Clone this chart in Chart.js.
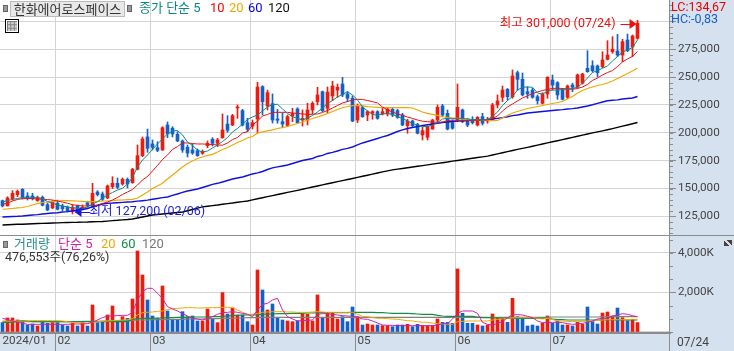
<!DOCTYPE html>
<html lang="ko">
<head>
<meta charset="utf-8">
<title>한화에어로스페이스</title>
<script src="https://cdn.jsdelivr.net/npm/chart.js@4"></script>
<style>
    html, body { margin: 0; padding: 0; background: #fff; overflow: hidden; }
    #wrap { position: relative; width: 734px; height: 351px; font-family: Roboto, "Noto Sans CJK KR", sans-serif; font-size: 13px; }
    canvas { position: absolute; left: 0; }
    #price-chart { top: 0; }
    #volume-chart { top: 235px; }
    .t { position: absolute; white-space: nowrap; line-height: 16px; }
    .sq { position: absolute; width: 3px; height: 5px; background: #999; border: 1px solid #666; }
    #name-box { position: absolute; left: 10px; top: 1px; width: 113px; height: 14px; background: #e8e8e8; border: 1px solid #bbb; color: #333; text-align: center; line-height: 14px; font-size: 13px; font-family: "Noto Sans CJK KR", sans-serif; }
    #grid-icon { position: absolute; left: 5px; top: 19px; width: 10px; height: 10px; padding: 1px; border: 1px solid #000; background: #fff; }
    #grid-icon div { width: 10px; height: 10px; background-color: #ccc; background-image: linear-gradient(#777 1px, transparent 1px), linear-gradient(90deg, #777 1px, transparent 1px); background-size: 3.4px 3.4px; }
    #zoom-icon { position: absolute; left: 724px; top: 240px; width: 8px; height: 6px; background: linear-gradient(45deg, #444 42%, #ddd 42%, #ddd 58%, #444 58%); }
</style>
</head>
<body>
<div id="wrap">
    <canvas id="price-chart" width="734" height="235"></canvas>
    <canvas id="volume-chart" width="734" height="116"></canvas>

    <div class="sq" style="left:3px;top:5px"></div>
    <div id="name-box">한화에어로스페이스</div>
    <div class="sq" style="left:127px;top:5px"></div>
    <div id="grid-icon"><div></div></div>
    <div class="t" style="left:139px;top:0;color:#0a8a84">종가 단순 5</div>
    <div class="t" style="left:210px;top:0;color:#f00">10</div>
    <div class="t" style="left:229px;top:0;color:#f0a800">20</div>
    <div class="t" style="left:248px;top:0;color:#00f">60</div>
    <div class="t" style="left:268px;top:0;color:#111">120</div>
    <div class="t" style="left:671px;top:-1px;color:#e00;font-size:12.5px">LC:134,67</div>
    <div class="t" style="left:671px;top:11px;color:#1560c8;font-size:12.5px">HC:-0,83</div>

    <div class="sq" style="left:3px;top:241px"></div>
    <div class="t" style="left:14px;top:236px;color:#2a908c">거래량</div>
    <div class="t" style="left:58px;top:236px;color:#d020b0">단순 5</div>
    <div class="t" style="left:101px;top:236px;color:#f0a800">20</div>
    <div class="t" style="left:121px;top:236px;color:#109040">60</div>
    <div class="t" style="left:142px;top:236px;color:#777">120</div>
    <div class="t" style="left:5px;top:249px;color:#333;font-size:12.5px">476,553주(76,26%)</div>
    <div id="zoom-icon"></div>
    <div class="t" style="left:677px;top:334px;color:#444;font-size:12px">07/24</div>
</div>

<script>
// categories: one entry per trading day
const dates = [
    '01/17','01/18','01/19','01/22','01/23','01/24','01/25','01/26','01/29','01/30','01/31',
    '02/01','02/02','02/05','02/06','02/07','02/08','02/13','02/14','02/15','02/16','02/19','02/20','02/21','02/22','02/23','02/26','02/27','02/28','02/29',
    '03/04','03/05','03/06','03/07','03/08','03/11','03/12','03/13','03/14','03/15','03/18','03/19','03/20','03/21','03/22','03/25','03/26','03/27','03/28','03/29',
    '04/01','04/02','04/03','04/04','04/05','04/08','04/09','04/11','04/12','04/15','04/16','04/17','04/18','04/19','04/22','04/23','04/24','04/25','04/26','04/29','04/30',
    '05/02','05/03','05/07','05/08','05/09','05/10','05/13','05/14','05/16','05/17','05/20','05/21','05/22','05/23','05/24','05/27','05/28','05/29','05/30','05/31',
    '06/03','06/04','06/05','06/07','06/10','06/11','06/12','06/13','06/14','06/17','06/18','06/19','06/20','06/21','06/24','06/25','06/26','06/27','06/28',
    '07/01','07/02','07/03','07/04','07/05','07/08','07/09','07/10','07/11','07/12','07/15','07/16','07/17','07/18','07/19','07/22','07/23','07/24'
];
const monthIndex = [0, 11, 30, 50, 71, 91, 110];
const monthNames = ['2024/01', '02', '03', '04', '05', '06', '07'];

const priceTicks = [125000, 150000, 175000, 200000, 225000, 250000, 275000, 300000];
const volumeTicks = [0, 2000, 4000];

const opens = [
    139100,134400,140900,144500,149300,143300,143300,139100,142200,135500,
    132600,136800,134400,133200,129600,134400,131400,137300,135000,146900,
    145100,141500,151700,154700,154100,158300,155300,167300,179500,196300,
    190000,186700,184600,207000,204100,198700,192700,187000,184600,184000,
    181600,188500,194200,190600,195600,207900,207000,222300,219900,209100,
    206100,212400,241400,224100,226200,212400,210000,206600,215100,221400,
    211500,211500,220500,227900,236900,222000,233100,238400,243800,234900,
    231000,211500,222600,216000,217500,219000,216900,216900,221100,219900,
    216000,206400,210600,207700,198100,196000,203400,211500,224100,217500,
    209100,211500,220500,210900,210900,207000,214500,210600,212200,225000,
    231900,239100,232400,254000,248000,236900,238400,232400,226500,234900,
    247400,245000,238400,231900,242900,240900,244500,257900,260200,260000,
    259400,266000,272800,273400,269800,283300,277000,284800
];
const highs = [
    139700,142700,148100,148700,149900,146300,145800,143300,143300,136800,
    139100,139700,136100,134400,135500,135300,135300,138600,154700,148100,
    146900,153200,160600,159500,159500,159500,168200,189100,196300,203400,
    193600,192000,205500,209700,205500,201000,193600,189100,190000,185500,
    184600,192700,195600,195100,216900,215400,216600,225000,221100,213000,
    211500,245400,242300,238400,234900,221100,218100,216000,222000,222600,
    220500,226500,227900,240900,237500,241100,246200,243800,249800,236900,
    233100,225900,224100,219900,219900,219900,222600,222900,222000,221100,
    217500,212200,211500,208600,205200,206100,212200,225000,225600,220500,
    211500,243800,221400,213000,214500,214500,217500,213900,226500,234000,
    242000,239800,256400,255500,253700,241400,240000,234000,236000,250400,
    251900,245900,240000,242900,244500,252800,253400,273700,264700,260900,
    272800,282700,286300,288400,283900,288700,287800,301000
];
const lows = [
    133500,134400,139700,142700,140600,139700,139700,138600,134400,130100,
    131900,130800,130100,129000,127200,129900,130800,133200,133200,143300,
    139100,140900,149900,149900,152900,150500,154700,166700,178600,182500,
    184600,183100,184300,195600,196300,192000,182500,178300,180700,178900,
    180700,186700,188200,187600,195100,200500,206400,213000,206100,201000,
    203400,199600,216000,220500,208800,208600,204600,205500,210000,208600,
    206100,207000,216900,225000,219000,217500,228800,231900,232400,227900,
    210000,209100,213900,210900,212200,212200,216000,215100,214500,213000,
    206400,199600,205500,199000,193600,193600,203200,210000,214500,202600,
    203200,210000,209100,205500,207900,206100,207000,208600,210900,222300,
    228000,229500,231000,238400,233100,231000,231000,225900,225900,231000,
    238400,230100,229500,230600,236900,240000,243800,254300,254600,250400,
    258500,265400,271400,268300,263800,272800,268300,283900
];
const closes = [
    134400,141500,145700,147500,142200,141500,140900,142200,135000,130800,
    137900,131400,131900,130100,133200,130800,133200,135000,145700,144500,
    140400,152300,154700,151100,158300,154100,167300,179500,194500,186100,
    187000,184300,204600,199000,199000,192700,184600,181900,181900,179500,
    183400,190600,190600,193600,202600,202300,215400,223200,207000,203200,
    209100,241100,228000,236000,211500,211300,207900,214500,217500,209100,
    213000,220500,226500,234000,219900,236600,242000,240900,234000,231000,
    210600,224100,214500,219000,219000,213000,219000,221400,216000,213900,
    207000,210600,206400,199600,201900,205500,211500,222900,216000,203400,
    204100,222900,210000,207000,209100,213900,208600,212200,225000,228600,
    238400,232400,251000,248000,234000,234900,231900,228800,234900,249800,
    242900,234000,230100,242000,240900,251900,252800,254900,255800,254000,
    265400,269800,275000,269800,281800,273700,286900,298300
];

const priceMa5 = [
    137900,139300,140200,141100,142000,142200,142200,142000,140600,138400,
    137000,135200,134400,133500,132800,132300,132300,133500,136100,138200,
    141500,144200,146500,148700,150200,154100,159900,169400,175600,180100,
    185100,190000,194500,199000,201700,202100,198100,191800,188600,184600,
    182800,183700,186400,189100,192200,195800,200800,203900,207900,212000,
    214200,216000,219600,223200,225400,225600,221400,217400,214500,212900,
    211500,213300,215600,218700,222300,226300,229000,232200,234400,236900,
    234000,229500,223200,219600,216500,215700,216900,217500,216500,214500,
    212900,210600,208400,207000,205500,205700,207000,209300,212400,213000,
    213000,213000,212900,212400,212000,211800,211500,212000,214700,218700,
    224500,229000,232600,238400,240900,241100,240900,235800,234600,237500,
    238400,238400,238900,239300,239800,240900,244700,249200,254100,255900,
    257900,260000,264500,268500,272500,274300,276600,283300
];
const priceMa10 = [
    135700,137000,138800,140200,140900,141100,140900,140600,140400,140100,
    139700,138800,137900,136800,135500,134800,134400,134400,134800,135200,
    136600,137900,139700,142000,144700,146900,149200,153200,157700,160800,
    165800,170700,176100,180100,185100,187700,190900,190900,190400,190000,
    190000,189700,189500,189100,188900,190900,194000,195800,199900,201000,
    207000,210600,215100,216500,218300,218400,218400,218400,217800,217400,
    216900,216600,216600,216900,218300,220000,222300,224500,226800,228100,
    229500,230100,229900,229000,228000,226800,223200,220500,218700,216900,
    215700,214200,212900,211500,210400,210000,209700,209500,209700,210900,
    211500,211100,210900,211100,211300,211300,211500,211500,212900,215100,
    219600,223200,225900,228600,231300,233100,235300,236600,238000,238900,
    239800,240000,239800,239300,239100,239800,241100,243400,247000,249200,
    251900,254100,255900,259500,263600,266300,268500,273000
];
const priceMa20 = [
    131400,131700,132100,132600,133000,133900,135200,136400,137500,137900,
    138200,138800,139100,139100,139000,138800,138400,138200,138200,138400,
    138800,138800,139100,139600,139700,140000,140300,141500,144200,146900,
    150000,152300,154700,158600,162200,165800,169400,172500,174700,177000,
    178300,179700,180700,182800,185100,186800,189100,191300,193100,195400,
    196700,199900,200800,201700,202600,203900,204600,205700,207000,208400,
    209700,211500,212900,214200,215600,217400,219100,220900,222500,223600,
    224400,224400,224100,223500,223200,222900,222700,222700,222700,222700,
    222600,222600,222300,220500,218700,217400,216500,215600,214400,213900,
    213300,212900,212200,212000,211500,211500,211300,211100,210900,211100,
    213300,215600,217800,219100,220500,221800,222700,223600,224500,225400,
    226300,227200,228100,230400,232600,235800,238000,239800,241100,242500,
    243400,244700,246500,248800,251000,253200,255500,258200
];
const priceMa60 = [
    124500,124700,124900,125100,125400,125800,126300,126600,127200,127600,
    128100,128300,129000,129300,129900,130800,131200,132100,133500,134800,
    136100,136800,137000,137300,137600,137900,138200,138700,139100,139600,
    140400,141100,141800,142400,143800,145100,146500,147800,148700,149600,
    150900,152300,153700,154700,155900,157200,158600,159500,160400,161700,
    163100,164000,165300,167100,168500,169400,170200,171100,172500,173800,
    175200,176100,177000,178800,179700,181500,182400,183700,185100,186000,
    187300,189100,190900,192200,193600,194900,196300,197600,199400,201200,
    202600,203900,204800,205700,206600,207200,207900,208600,209300,209700,
    210200,210600,210800,211100,211300,211500,211500,211800,212400,213000,
    213600,214400,215400,216000,216900,217800,218300,218700,219200,219600,
    220000,220500,220800,221400,221700,222300,223200,224100,225200,226500,
    227700,228800,229200,229600,230400,230800,231300,232600
];
const priceMa120 = [
    117300,117500,117700,117900,118000,118200,118400,118600,118700,118900,
    119100,119200,119400,119500,119600,119700,119900,120000,120200,120300,
    120400,120800,121200,121500,121900,122200,122700,123600,124500,125400,
    126300,126700,127200,127600,128100,128500,129000,130100,131200,132400,
    133500,134100,134700,135200,135900,136500,137000,137700,138300,138800,
    139800,140800,141700,142700,143700,144600,145600,146600,147500,148400,
    149400,150400,151400,152300,153300,154300,155200,156200,157100,158100,
    159000,160000,161000,161900,162900,163900,164900,165800,166800,167400,
    168000,168600,169300,170000,170600,171200,171900,172600,173200,173800,
    174600,175200,175800,176500,177200,177800,178400,179100,180100,181100,
    182100,183100,184100,185100,186000,187000,188000,189000,190000,191000,
    192000,192900,193900,194900,195900,196900,197900,198900,199900,200800,
    201800,202800,203800,204900,206000,207000,208100,209300
];

// volume, in thousands of shares
const volumes = [
    473,709,709,608,557,354,405,304,557,439,
    473,473,354,304,439,304,473,304,1367,473,
    490,861,1317,557,776,692,1671,4102,2886,1620,
    810,692,2329,1063,641,608,1030,776,810,557,
    557,1165,692,473,1992,912,1199,861,861,523,
    354,3140,2127,1114,1418,726,608,557,523,574,
    895,895,557,1874,726,945,945,658,776,523,
    1266,776,354,405,354,354,321,321,270,354,
    354,388,270,388,321,321,321,658,490,490,
    439,3190,945,439,439,354,304,354,912,692,
    692,490,1705,776,692,304,354,304,439,810,
    439,557,354,354,304,490,388,1266,523,405,
    962,1013,810,1215,726,574,641,477
];
const volumeMa5 = [
    692,625,557,490,439,388,388,388,388,388,
    388,388,388,388,405,405,405,422,490,608,
    726,810,810,827,844,844,996,1620,2042,2211,
    2211,1958,1705,1283,1165,1063,928,810,692,658,
    608,692,776,895,979,996,1030,996,945,895,
    776,1114,1401,1452,1620,1705,1114,776,658,557,
    574,591,608,895,928,928,895,861,827,810,
    793,760,658,641,557,456,354,338,338,321,
    321,321,321,321,321,321,321,354,422,422,
    658,945,1063,1063,1063,945,490,388,354,439,
    523,726,861,878,861,793,726,557,473,473,
    490,490,473,422,388,405,439,490,557,658,
    692,692,810,861,928,895,827,776
];
const volumeMa20 = [
    557,557,557,557,557,557,574,574,574,574,
    574,574,557,523,490,473,456,439,490,523,
    540,557,574,591,608,625,675,861,979,996,
    1013,1047,1063,1131,1182,1199,1215,1232,1232,1215,
    1215,1232,1232,1232,1249,1249,1249,1114,996,895,
    895,945,996,1013,1030,1030,1030,1013,1013,996,
    996,996,1013,1030,1013,996,996,996,996,996,
    996,895,793,776,726,692,692,675,658,641,
    608,574,557,523,490,490,456,422,405,388,
    388,523,540,557,557,557,557,557,608,641,
    658,692,709,726,726,726,726,692,658,692,
    625,557,557,540,523,540,540,557,574,591,
    608,625,625,625,625,625,641,641
];
const volumeMa60 = [
    490,490,490,557,574,557,523,523,523,523,
    523,523,523,523,523,523,523,523,523,523,
    523,523,523,523,523,523,641,675,692,692,
    692,709,709,726,726,743,743,743,760,760,
    760,760,776,776,793,810,827,844,861,861,
    861,878,895,912,912,928,928,928,945,945,
    945,962,962,979,979,979,979,979,979,979,
    996,996,996,996,996,979,979,962,945,945,
    945,945,928,912,895,895,895,844,810,793,
    793,793,793,793,793,760,726,726,726,709,
    692,692,692,692,692,692,692,692,692,692,
    658,625,625,608,608,608,608,608,608,608,
    608,608,608,608,608,608,608,608
];
const volumeMa120 = [
    523,523,523,523,523,523,523,523,523,523,
    523,523,523,523,523,523,540,540,540,540,
    557,557,557,574,574,591,591,608,608,608,
    625,625,625,641,641,641,641,658,658,658,
    658,675,675,675,692,692,692,709,709,726,
    726,726,743,743,743,743,743,743,743,743,
    743,743,743,743,743,743,743,743,743,743,
    743,743,743,743,743,743,743,743,743,743,
    743,743,743,743,743,743,743,743,743,743,
    743,743,743,743,743,743,743,743,743,743,
    743,743,743,743,743,743,743,743,743,743,
    760,760,760,760,760,760,760,760,760,760,
    776,776,776,776,776,776,776,776
];

const RED = '#ee1a0c';
const BLUE = '#1560c8';
const GRID = '#d4d4d4';
const BAND = '#d6e1ef';
const AXIS = '#8c8c8c';
const TEXT = '#444';
const TICK_FONT = { family: 'Roboto', size: 11.7 };

// 6 blank slots leave the empty stretch right of the last candle
const labels = dates.concat(['', '', '', '', '', '']);
const upDown = closes.map((c, i) => (c >= opens[i] ? RED : BLUE));

function lineSet(data, color, width) {
    return { type: 'line', data, borderColor: color, borderWidth: width, pointRadius: 0, tension: 0, order: 0 };
}

function monthGrid(color) {
    return ctx => (monthIndex.indexOf(ctx.index) > 0 ? color : 'transparent');
}

// The library reserves half a label of padding at the scale ends; the panels run edge to edge
function fitScale(size) {
    return s => {
        if (s.isHorizontal()) s.height = size; else s.width = size;
        s.paddingTop = 0;
        s.paddingBottom = 0;
        s.paddingLeft = 0;
        s.paddingRight = 0;
    };
}

// Right band and the short unlabelled ticks next to the axis
function panelPlugin(minorStep, bandHeight) {
    return {
        id: 'panel',
        beforeDraw(chart) {
            const c = chart.ctx;
            c.save();
            c.fillStyle = BAND;
            c.fillRect(669, 0, 65, chart.height);
            if (bandHeight) c.fillRect(0, chart.height - bandHeight, 734, bandHeight);
            c.restore();
        },
        afterDraw(chart) {
            const c = chart.ctx;
            const y = chart.scales.y;
            c.save();
            c.fillStyle = AXIS;
            c.fillRect(669, 0, 1, chart.height);
            for (let v = 0; v <= y.max; v += minorStep) {
                if (v < y.min) continue;
                c.fillRect(670, Math.round(y.getPixelForValue(v)), 3, 1);
            }
            c.restore();
        }
    };
}

// High and low notes with their arrows, placed from the scales
const notesPlugin = {
    id: 'notes',
    afterDatasetsDraw(chart) {
        const c = chart.ctx;
        const x = chart.scales.x;
        const y = chart.scales.y;
        const hiIdx = highs.indexOf(Math.max(...highs));
        const loIdx = lows.indexOf(Math.min(...lows));
        const hiX = x.getPixelForValue(hiIdx) - 1;
        const hiY = Math.round(y.getPixelForValue(highs[hiIdx])) + 4;
        const loX = x.getPixelForValue(loIdx) + 2;
        const loY = Math.round(y.getPixelForValue(lows[loIdx])) - 2;

        c.save();
        c.font = '12.5px Roboto, "Noto Sans CJK KR"';
        c.textBaseline = 'middle';

        c.fillStyle = '#ee1010';
        c.textAlign = 'right';
        c.fillText('최고 301,000 (07/24)', hiX - 21, hiY);
        c.fillRect(hiX - 16, hiY, 10, 1);
        c.beginPath();
        c.moveTo(hiX, hiY);
        c.lineTo(hiX - 7, hiY - 5);
        c.lineTo(hiX - 7, hiY + 5);
        c.fill();

        c.fillStyle = '#1a1ae0';
        c.textAlign = 'left';
        c.fillText('최저 127,200 (02/06)', loX + 15, loY);
        c.fillRect(loX + 6, loY, 10, 1);
        c.beginPath();
        c.moveTo(loX, loY);
        c.lineTo(loX + 7, loY - 5);
        c.lineTo(loX + 7, loY + 5);
        c.fill();
        c.restore();
    }
};

const commaFormat = v => v.toLocaleString('en-US');

new Chart(document.getElementById('price-chart'), {
    type: 'bar',
    data: {
        labels,
        datasets: [
            lineSet(priceMa5, '#0a8a84', 1),
            lineSet(priceMa10, '#f01010', 1),
            lineSet(priceMa20, '#f0a800', 1.2),
            lineSet(priceMa60, '#1010e0', 1.4),
            lineSet(priceMa120, '#000', 1.4),
            { data: opens.map((o, i) => [o, closes[i]]), backgroundColor: upDown, barThickness: 3, grouped: false, order: 1 },
            { data: lows.map((l, i) => [l, highs[i]]), backgroundColor: upDown, barThickness: 1, grouped: false, order: 2 }
        ]
    },
    options: {
        responsive: false,
        animation: false,
        events: [],
        layout: { padding: 0 },
        plugins: { legend: { display: false }, tooltip: { enabled: false } },
        scales: {
            x: {
                ticks: { display: false, autoSkip: false },
                border: { display: false },
                grid: { offset: true, drawTicks: false, color: monthGrid(GRID), lineWidth: 1 },
                afterFit: fitScale(0)
            },
            y: {
                position: 'right',
                min: 108310,
                max: 319200,
                afterBuildTicks: s => { s.ticks = priceTicks.map(value => ({ value })); },
                afterFit: fitScale(64),
                border: { display: false },
                grid: { color: GRID, tickColor: AXIS, tickLength: 6 },
                ticks: {
                    font: TICK_FONT,
                    color: TEXT,
                    padding: 2,
                    callback: v => (v < 300000 ? commaFormat(v) : '')
                }
            }
        }
    },
    plugins: [panelPlugin(5000, 0), notesPlugin]
});

new Chart(document.getElementById('volume-chart'), {
    type: 'bar',
    data: {
        labels,
        datasets: [
            lineSet(volumeMa5, '#d020b0', 1),
            lineSet(volumeMa20, '#f0a800', 1),
            lineSet(volumeMa60, '#109040', 1.2),
            lineSet(volumeMa120, '#808080', 1.2),
            { data: volumes, backgroundColor: upDown, barThickness: 3, order: 1 }
        ]
    },
    options: {
        responsive: false,
        animation: false,
        events: [],
        layout: { padding: 0 },
        plugins: { legend: { display: false }, tooltip: { enabled: false } },
        scales: {
            x: {
                border: { display: true, color: AXIS, width: 2 },
                grid: { offset: true, color: monthGrid(GRID), tickColor: monthGrid(AXIS), tickLength: 18 },
                afterFit: fitScale(18),
                ticks: {
                    autoSkip: false,
                    maxRotation: 0,
                    minRotation: 0,
                    align: 'start',
                    padding: -17,
                    font: TICK_FONT,
                    color: TEXT,
                    callback: (v, i) => {
                        const k = monthIndex.indexOf(i);
                        return k < 0 ? '' : monthNames[k];
                    }
                }
            },
            y: {
                position: 'right',
                min: -51,
                max: 4911,
                afterBuildTicks: s => { s.ticks = volumeTicks.map(value => ({ value })); },
                afterFit: fitScale(64),
                border: { display: false },
                grid: { color: GRID, tickColor: ctx => (ctx.tick && ctx.tick.value ? AXIS : 'transparent'), tickLength: 6 },
                ticks: {
                    font: TICK_FONT,
                    color: TEXT,
                    padding: 2,
                    callback: v => (v ? commaFormat(v) + 'K' : '')
                }
            }
        }
    },
    plugins: [panelPlugin(2000 / 3, 18), {
        id: 'topRule',
        afterDraw(chart) {
            chart.ctx.fillStyle = AXIS;
            chart.ctx.fillRect(0, 0, 734, 1);
        }
    }]
});
</script>
</body>
</html>
